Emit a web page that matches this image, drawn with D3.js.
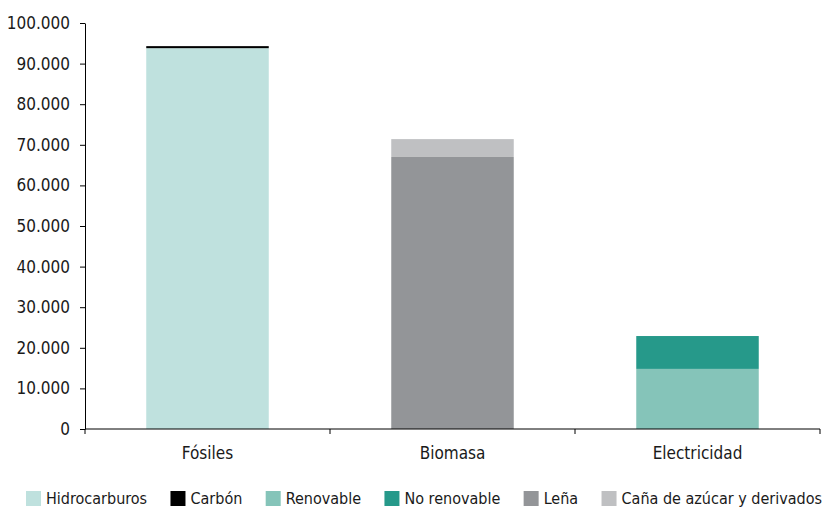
<!DOCTYPE html>
<html>
<head>
  <meta charset="utf-8">
  <title>Consumo por fuente</title>
  <style>
    body { margin: 0; background: #fff; }
    svg text { font-family: "Liberation Sans Narrow", "Arial Narrow", "DejaVu Sans Condensed", sans-serif; fill: #1a1a1a; }
  </style>
</head>
<body>
  <svg id="chart"></svg>

  <script src="https://cdnjs.cloudflare.com/ajax/libs/d3/7.8.5/d3.min.js"></script>
  <script>
    // categories and stacked series
    const categories = ["Fósiles", "Biomasa", "Electricidad"];
    const seriesNames = ["Hidrocarburos", "Carbón", "Renovable", "No renovable", "Leña", "Caña de azúcar y derivados"];
    const seriesColors = ["#bfe1de", "#000000", "#85c4b9", "#26998a", "#939598", "#bfc0c2"];
    const hidrocarburos = [93800, 0, 0];
    const carbon = [500, 0, 0];
    const renovable = [0, 0, 14800];
    const noRenovable = [0, 0, 8100];
    const lena = [0, 67000, 0];
    const cana = [0, 4400, 0];
    const yTicks = [0, 10000, 20000, 30000, 40000, 50000, 60000, 70000, 80000, 90000, 100000];

    const width = 825, height = 510;
    const margin = { top: 23, right: 5, bottom: 81, left: 85 };

    const svg = d3.select("#chart")
      .attr("width", width)
      .attr("height", height)
      .attr("viewBox", [0, 0, width, height]);

    const table = categories.map((c, i) => ({
      cat: c,
      "Hidrocarburos": hidrocarburos[i],
      "Carbón": carbon[i],
      "Renovable": renovable[i],
      "No renovable": noRenovable[i],
      "Leña": lena[i],
      "Caña de azúcar y derivados": cana[i]
    }));

    const stacked = d3.stack().keys(seriesNames)(table);

    const x = d3.scaleBand()
      .domain(categories)
      .range([margin.left, width - margin.right])
      .paddingInner(0.5)
      .paddingOuter(0.25);

    const y = d3.scaleLinear()
      .domain([0, 100000])
      .range([height - margin.bottom, margin.top]);

    const color = d3.scaleOrdinal().domain(seriesNames).range(seriesColors);

    const locale = d3.formatLocale({ decimal: ",", thousands: ".", grouping: [3], currency: ["", ""] });
    const fmt = locale.format(",");

    // bars
    svg.append("g")
      .selectAll("g")
      .data(stacked)
      .join("g")
      .attr("fill", d => color(d.key))
      .selectAll("rect")
      .data(d => d)
      .join("rect")
      .attr("x", d => x(d.data.cat))
      .attr("width", x.bandwidth())
      .attr("y", d => y(d[1]))
      .attr("height", d => y(d[0]) - y(d[1]));

    // y axis
    const gy = svg.append("g")
      .attr("transform", `translate(${margin.left},0)`)
      .call(d3.axisLeft(y).tickValues(yTicks).tickFormat(fmt).tickSize(5).tickSizeOuter(0).tickPadding(10));
    gy.selectAll("text").attr("font-size", 17).attr("font-family", null);
    gy.selectAll("line, path").attr("stroke", "#000");

    // x axis with ticks on category boundaries
    const gx = svg.append("g")
      .attr("transform", `translate(0,${height - margin.bottom})`);
    gx.append("line")
      .attr("x1", margin.left).attr("x2", width - margin.right)
      .attr("stroke", "#000");
    const bounds = d3.range(categories.length + 1).map(i => margin.left + i * (width - margin.left - margin.right) / categories.length);
    gx.selectAll(".bt")
      .data(bounds)
      .join("line")
      .attr("class", "bt")
      .attr("x1", d => d).attr("x2", d => d)
      .attr("y1", 0).attr("y2", 5)
      .attr("stroke", "#000");
    gx.selectAll(".lbl")
      .data(categories)
      .join("text")
      .attr("class", "lbl")
      .attr("x", d => x(d) + x.bandwidth() / 2)
      .attr("y", 30)
      .attr("text-anchor", "middle")
      .attr("font-size", 17)
      .text(d => d);

    // legend: spread items between the left edge and the right edge
    const legendLeft = 26, legendRight = 822;
    const legend = svg.append("g").attr("transform", `translate(0,${height - 12})`);
    const items = seriesNames.map(name => {
      const item = legend.append("g");
      item.append("rect")
        .attr("x", 0).attr("y", -7)
        .attr("width", 15).attr("height", 15)
        .attr("fill", color(name));
      const t = item.append("text")
        .attr("x", 20)
        .attr("y", 6)
        .attr("font-size", 16)
        .text(name);
      return { item, w: 20 + t.node().getComputedTextLength() };
    });
    const total = d3.sum(items, d => d.w);
    const gap = (legendRight - legendLeft - total) / (items.length - 1);
    let lx = legendLeft;
    items.forEach(d => {
      d.item.attr("transform", `translate(${lx},0)`);
      lx += d.w + gap;
    });
  </script>
</body>
</html>
